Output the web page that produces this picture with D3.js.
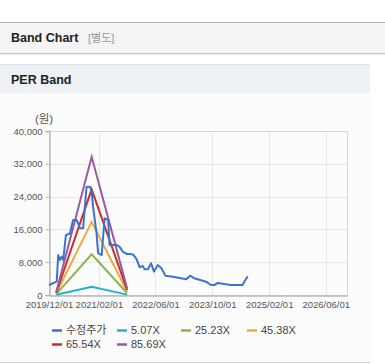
<!DOCTYPE html>
<html lang="ko">
<head>
<meta charset="UTF-8">
<script src="https://cdn.jsdelivr.net/npm/d3@7/dist/d3.min.js"></script>
<style>
    body{margin:0;background:#fff;}
    svg{display:block;font-family:"Liberation Sans","Noto Sans CJK KR",sans-serif;}
</style>
<title>PER Band</title>
</head>
<body>
<svg id="chart"></svg>
<script>
    // 수정주가 (date, won)
    var priceDates = ["2019-12-01","2020-02-05","2020-02-18","2020-03-03","2020-03-18","2020-04-01","2020-04-24","2020-05-28",
        "2020-06-25","2020-07-25","2020-08-22","2020-09-19","2020-10-18","2020-11-16","2020-12-01","2020-12-13",
        "2021-01-12","2021-01-25","2021-02-25","2021-03-22","2021-04-21","2021-05-04","2021-07-01","2021-07-28",
        "2021-08-27","2021-10-01","2021-10-24","2021-11-21","2021-12-20","2022-01-18","2022-02-10","2022-03-01",
        "2022-03-28","2022-04-25","2022-05-20","2022-06-21","2022-07-21","2022-08-27","2022-10-28","2023-02-21",
        "2023-03-25","2023-05-01","2023-08-09","2023-09-21","2023-10-19","2023-11-20","2024-01-28","2024-03-10",
        "2024-06-18","2024-07-03","2024-08-01"];
    var priceValues = [2440,3250,9750,8500,9350,8500,14600,15000,
        18300,18300,16300,16300,26400,26400,25200,21500,
        15100,10200,9750,18700,18300,12200,12200,11800,
        10500,10000,10000,9900,8800,6750,7100,6270,
        6270,7730,5700,7300,6600,4700,4460,3830,
        4700,4070,3250,2440,2440,2930,2600,2440,
        2440,3250,4560];

    // PER 밴드
    var bandDates = ["2020-02-01","2020-12-01","2021-10-01"];
    var bandNames = ["5.07X","25.23X","45.38X","65.54X","85.69X"];
    var band507 = [40,1990,96];
    var band2523 = [200,9920,480];
    var band4538 = [360,17840,860];
    var band6554 = [520,25760,1245];
    var band8569 = [690,33700,1630];

    var yTicks = [0,8000,16000,24000,32000,40000];
    var xTicks = ["2019/12/01","2021/02/01","2022/06/01","2023/10/01","2025/02/01","2026/06/01"];

    var colors = {"수정주가":"#3a75c9","5.07X":"#20b4c6","25.23X":"#8ab54c","45.38X":"#f1a83c","65.54X":"#c8302d","85.69X":"#9a57a6"};

    var width = 385, height = 364;
    var svg = d3.select("#chart").attr("width", width).attr("height", height);

    // 상단 헤더
    svg.append("rect").attr("x",0).attr("y",22).attr("width",width).attr("height",31).attr("fill","#f4f4f4");
    svg.append("line").attr("x1",0).attr("x2",width).attr("y1",22.5).attr("y2",22.5).attr("stroke","#b5b5b5");
    svg.append("line").attr("x1",0).attr("x2",width).attr("y1",53.5).attr("y2",53.5).attr("stroke","#c8c8c8");
    svg.append("line").attr("x1",0).attr("x2",width).attr("y1",54.5).attr("y2",54.5).attr("stroke","#e8e8e8");
    svg.append("text").attr("x",11).attr("y",42).attr("font-size","12.5px").attr("font-weight","bold")
        .attr("fill","#222").text("Band Chart");
    svg.append("text").attr("x",88).attr("y",42).attr("font-size","11px").attr("fill","#999").text("[별도]");

    // PER Band 영역
    svg.append("rect").attr("x",0).attr("y",93).attr("width",370).attr("height",269).attr("fill","#fcfcfc");
    svg.append("rect").attr("x",0).attr("y",64).attr("width",370).attr("height",29).attr("fill","#eef2f7");
    svg.append("line").attr("x1",0).attr("x2",370).attr("y1",64.5).attr("y2",64.5).attr("stroke","#dde2e8");
    svg.append("line").attr("x1",0).attr("x2",370).attr("y1",362.5).attr("y2",362.5).attr("stroke","#d0d0d0");
    svg.append("text").attr("x",11).attr("y",84).attr("font-size","12.5px").attr("font-weight","bold")
        .attr("fill","#222").text("PER Band");

    // plot
    var plotL = 49, plotR = 347, plotT = 131, plotB = 295;
    var parse = d3.timeParse("%Y-%m-%d");
    var parseTick = d3.timeParse("%Y/%m/%d");
    var x = d3.scaleTime().domain([parse("2019-12-01"), parse("2026-12-01")]).range([plotL, plotR]);
    var y = d3.scaleLinear().domain([0, 40000]).range([plotB, plotT]);

    var grid = svg.append("g");
    grid.selectAll(".gy").data(yTicks).enter().append("line")
        .attr("x1",plotL).attr("x2",plotR)
        .attr("y1",function(d){return Math.round(y(d))+0.5;})
        .attr("y2",function(d){return Math.round(y(d))+0.5;})
        .attr("stroke","#e6e6e6");
    grid.selectAll(".gx").data(xTicks).enter().append("line")
        .attr("y1",plotT).attr("y2",plotB)
        .attr("x1",function(d){return Math.round(x(parseTick(d)))+0.5;})
        .attr("x2",function(d){return Math.round(x(parseTick(d)))+0.5;})
        .attr("stroke","#e6e6e6");
    svg.append("rect").attr("x",plotL+0.5).attr("y",plotT+0.5).attr("width",plotR-plotL).attr("height",plotB-plotT)
        .attr("fill","none").attr("stroke","#d6d6d6");

    var yAxis = svg.append("g").attr("transform","translate("+(plotL+0.5)+",0)")
        .call(d3.axisLeft(y).tickValues(yTicks).tickSize(4).tickPadding(3).tickFormat(d3.format(",")));
    var xAxis = svg.append("g").attr("transform","translate(0,"+(plotB+0.5)+")")
        .call(d3.axisBottom(x).tickValues(xTicks.map(parseTick)).tickSize(0).tickPadding(6)
            .tickFormat(d3.timeFormat("%Y/%m/%d")));
    [yAxis, xAxis].forEach(function(a){
        a.select(".domain").attr("stroke","#b8b8b8").attr("stroke-width",1.5);
        a.selectAll(".tick line").attr("stroke","#b8b8b8");
        a.selectAll("text").attr("fill","#555").attr("font-size","9.5px")
            .attr("font-family","Liberation Sans, sans-serif");
    });
    svg.append("text").attr("x",44).attr("y",123).attr("text-anchor","middle").attr("font-size","11.5px")
        .attr("fill","#555").text("(원)");

    var line = d3.line().x(function(d){return x(d[0]);}).y(function(d){return y(d[1]);});

    var bands = [band507, band2523, band4538, band6554, band8569];
    bands.forEach(function(vals, i){
        svg.append("path")
            .attr("d", line(bandDates.map(function(d, j){return [parse(d), vals[j]];})))
            .attr("fill","none").attr("stroke",colors[bandNames[i]]).attr("stroke-width",2);
    });
    svg.append("path")
        .attr("d", line(priceDates.map(function(d, j){return [parse(d), priceValues[j]];})))
        .attr("fill","none").attr("stroke",colors["수정주가"]).attr("stroke-width",2)
        .attr("stroke-linejoin","round");

    // legend
    var legendItems = [
        {name:"수정주가", x:52, y:330},
        {name:"5.07X", x:117, y:330},
        {name:"25.23X", x:181, y:330},
        {name:"45.38X", x:247, y:330},
        {name:"65.54X", x:52, y:344},
        {name:"85.69X", x:117, y:344}
    ];
    var lg = svg.append("g").selectAll("g").data(legendItems).enter().append("g")
        .attr("transform",function(d){return "translate("+d.x+","+d.y+")";});
    lg.append("line").attr("x1",0).attr("x2",10).attr("y1",0.5).attr("y2",0.5)
        .attr("stroke",function(d){return colors[d.name];}).attr("stroke-width",2.5);
    lg.append("text").attr("x",14).attr("y",4).attr("font-size","11px").attr("fill","#444")
        .attr("font-family","Liberation Sans, Noto Sans CJK KR, sans-serif")
        .text(function(d){return d.name;});
</script>
</body>
</html>
